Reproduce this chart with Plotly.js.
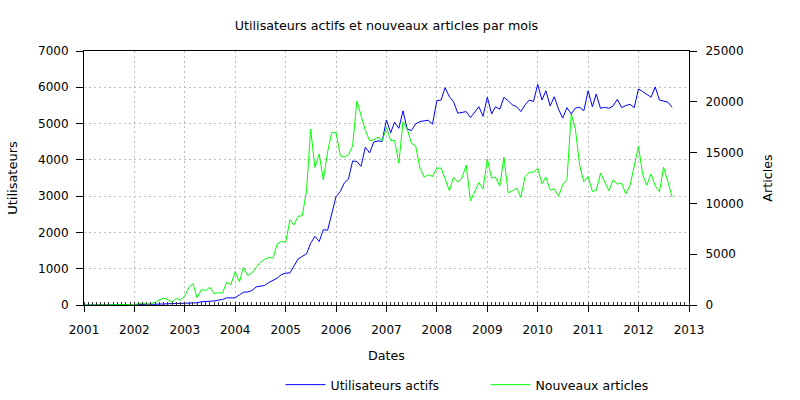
<!DOCTYPE html>
<html>
<head>
<meta charset="utf-8">
<script src="https://cdn.plot.ly/plotly-3.0.1.min.js"></script>
<style>html,body{margin:0;padding:0;background:#fff;}#chart{width:800px;height:400px;}</style>
</head>
<body>
<div id="chart"></div>
<script>
// Monthly series, first month = January 2001
const startYear = 2001;
const startMonth = 1;

const utilisateursActifs = [
  0,0,0,0,0,0,0,0,0,0,0,0,
  0,5,10,10,15,20,25,30,30,35,40,45,
  50,55,60,60,90,95,100,110,133,150,197,200,
  197,280,353,360,399,500,520,537,620,683,740,838,
  875,885,1060,1270,1340,1410,1700,1890,1750,2075,2060,2490,
  2990,3130,3360,3470,3970,3955,3820,4350,4190,4490,4520,4510,
  5100,4750,5040,4870,5350,4845,4810,4990,5055,5075,5090,4985,
  5630,5650,5990,5740,5605,5285,5300,5330,5165,5330,5465,5200,
  5725,5265,5465,5395,5725,5630,5515,5465,5330,5515,5650,5605,
  6080,5650,5905,5485,5740,5395,5150,5440,5265,5430,5450,5350,
  5905,5465,5815,5420,5450,5420,5485,5670,5440,5495,5530,5440,
  5955,5880,5815,5725,6010,5650,5620,5590,5450
];

const nouveauxArticles = [
  0,0,0,0,0,0,0,0,0,0,0,0,
  50,100,200,60,150,250,500,670,500,310,650,500,
  900,1750,2110,700,1520,1420,1750,1130,1200,1180,2240,2010,
  3260,2280,3710,2900,3160,3700,4200,4470,4700,4600,6010,6270,
  6170,8400,7870,8720,8790,11200,17300,13530,14850,12320,15100,16970,
  16970,14680,14550,14780,15660,20080,18710,17170,16190,16250,16520,16150,
  17460,16190,16190,13960,18050,17300,15930,15650,13470,12590,12820,12650,
  13470,13470,12440,11250,12570,12100,12490,13770,10240,11180,12060,11410,
  14370,12490,12590,11700,14550,11050,11220,11510,10590,12650,13060,13070,
  13450,11930,12590,11340,11420,10690,11830,12350,18800,17300,13750,12130,
  12650,11180,11270,12980,12060,11240,12320,11900,12000,10950,11760,13630,
  15630,12815,11800,12900,11730,11150,13570,12130,10620
];

const yearTicks = ['2001','2002','2003','2004','2005','2006','2007','2008','2009','2010','2011','2012','2013'];

const dates = utilisateursActifs.map((_, i) => {
  const m0 = (startMonth - 1) + i;
  const y = startYear + Math.floor(m0 / 12);
  const m = (m0 % 12) + 1;
  return y + '-' + String(m).padStart(2, '0') + '-01';
});

const FONT = 'DejaVu Sans, Verdana, sans-serif';

const traces = [
  {
    x: dates, y: utilisateursActifs, type: 'scatter', mode: 'lines',
    name: 'Utilisateurs actifs', line: {color: '#0000ff', width: 1}, yaxis: 'y'
  },
  {
    x: dates, y: nouveauxArticles, type: 'scatter', mode: 'lines',
    name: 'Nouveaux articles', line: {color: '#00ff00', width: 1}, yaxis: 'y2'
  }
];

const layout = {
  width: 800, height: 400,
  paper_bgcolor: '#ffffff', plot_bgcolor: '#ffffff',
  font: {family: FONT, size: 12, color: '#000'},
  margin: {l: 84, r: 111, t: 51, b: 95, pad: 0, autoexpand: false},
  title: {text: 'Utilisateurs actifs et nouveaux articles par mois', font: {family: FONT, size: 12.7, color: '#000'},
          x: 0.5, xref: 'paper', y: 0.935, yref: 'container', yanchor: 'middle'},
  showlegend: true,
  legend: {orientation: 'h', x: 0.3248, xanchor: 'left', xref: 'paper',
           y: 0.0375, yanchor: 'middle', yref: 'container',
           font: {family: FONT, size: 12.5, color: '#000'}, itemwidth: 40,
           entrywidth: 150, entrywidthmode: 'pixels', bgcolor: 'rgba(0,0,0,0)'},
  xaxis: {
    type: 'date', automargin: false,
    range: [yearTicks[0] + '-01-01', yearTicks[yearTicks.length - 1] + '-01-01'],
    tickvals: yearTicks.map(y => y + '-01-01'), ticktext: yearTicks,
    ticks: 'outside', ticklen: 6, tickcolor: '#000', tickwidth: 1, ticklabelstandoff: 8,
    showline: true, linecolor: '#000', linewidth: 1, mirror: true,
    showgrid: true, gridcolor: '#bdbdbd', griddash: '2px,3px', gridwidth: 1,
    zeroline: false,
    minor: {dtick: 'M1', tick0: '2001-01-01', ticks: 'inside', ticklen: 3, tickcolor: '#333', tickwidth: 1, showgrid: false},
    tickfont: {family: FONT, size: 12, color: '#000'},
    title: {text: 'Dates', font: {family: FONT, size: 12.7, color: '#000'}, standoff: 14}
  },
  yaxis: {
    automargin: false,
    range: [0, 7000], dtick: 1000, tick0: 0, tickformat: 'd',
    ticks: 'outside', ticklen: 7, tickcolor: '#000', ticklabelstandoff: 5,
    showline: true, linecolor: '#000', linewidth: 1,
    showgrid: true, gridcolor: '#bdbdbd', griddash: '2px,3px', gridwidth: 1,
    zeroline: false,
    tickfont: {family: FONT, size: 12, color: '#000'},
    title: {text: 'Utilisateurs', font: {family: FONT, size: 13, color: '#000'}, standoff: 17}
  },
  yaxis2: {
    automargin: false,
    overlaying: 'y', side: 'right',
    range: [0, 25000], dtick: 5000, tick0: 0, tickformat: 'd',
    ticks: 'outside', ticklen: 7, tickcolor: '#000', ticklabelstandoff: 6,
    showline: true, linecolor: '#000', linewidth: 1,
    showgrid: false, zeroline: false,
    tickfont: {family: FONT, size: 12, color: '#000'},
    title: {text: 'Articles', font: {family: FONT, size: 12.7, color: '#000'}, standoff: 20}
  }
};

Plotly.newPlot('chart', traces, layout, {displayModeBar: false, staticPlot: true});
</script>
</body>
</html>
